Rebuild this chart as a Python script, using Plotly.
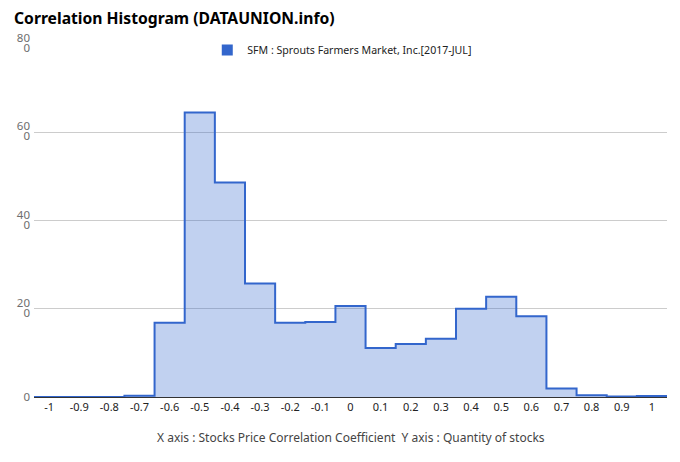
import plotly.graph_objects as go

categories = [-1.0, -0.9, -0.8, -0.7, -0.6, -0.5, -0.4, -0.3, -0.2, -0.1, 0.0,
              0.1, 0.2, 0.3, 0.4, 0.5, 0.6, 0.7, 0.8, 0.9, 1.0]
tick_labels = ["-1", "-0.9", "-0.8", "-0.7", "-0.6", "-0.5", "-0.4", "-0.3", "-0.2", "-0.1", "0",
               "0.1", "0.2", "0.3", "0.4", "0.5", "0.6", "0.7", "0.8", "0.9", "1"]
sfm_counts = [0.0, 0.0, 0.0, 0.3, 16.8, 64.5, 48.6, 25.7, 16.8, 17.0, 20.6,
              11.1, 12.0, 13.2, 20.0, 22.7, 18.3, 1.9, 0.4, 0.1, 0.2]
y_tick_vals = [0, 20, 40, 60, 80]
# the reference draws each non-zero y label as two lines: "80" above, "0" below
y_tick_upper = ["", "20", "40", "60", "80"]
y_tick_lower = ["", "0", "0", "0", "0"]
y_tick_base = ["0", "", "", "", ""]

series_name = "SFM : Sprouts Farmers Market, Inc.[2017-JUL]"
half = 0.05
# step edges: each category occupies a band centred on its value
xs = [c - half for c in categories] + [categories[-1] + half]
ys = sfm_counts + [sfm_counts[-1]]

FONT = "Noto Sans"
BLUE = "#3366CC"
YLAB = dict(size=11.5, color="#6e6e6e", family=FONT)

# the page body has an 8px margin, so the figure is drawn 8px in from the corner
W, H = 672, 454

fig = go.Figure()
fig.add_trace(go.Scatter(
    x=xs, y=ys, mode="lines", line=dict(shape="hv", color=BLUE, width=2),
    fill="tozeroy", fillcolor="rgba(51,102,204,0.3)", showlegend=False,
    hoverinfo="skip"))
fig.add_trace(go.Scatter(
    x=[None], y=[None], mode="markers", name=series_name,
    marker=dict(symbol="square", size=11, color=BLUE), showlegend=True))

common_y = dict(range=[0, 80], tickvals=y_tick_vals, automargin=False, ticks="",
                fixedrange=True, zeroline=False, tickfont=YLAB, ticklabelstandoff=3)

fig.update_layout(
    width=W, height=H,
    margin=dict(l=26, r=13, t=36, b=65, autoexpand=False),
    paper_bgcolor="white", plot_bgcolor="white",
    font=dict(family=FONT, color="#222222"),
    title=dict(text="<b>Correlation Histogram (DATAUNION.info)</b>",
               xref="container", x=6/W, xanchor="left",
               yref="container", y=1-10.5/H, yanchor="middle",
               pad=dict(l=0, r=0, t=0, b=0),
               font=dict(size=15.7, color="#000000", family=FONT)),
    legend=dict(orientation="h", x=0.487, xanchor="center", y=0.983, yanchor="middle",
                font=dict(size=10.6, color="#222222"), bgcolor="rgba(0,0,0,0)",
                itemwidth=30),
    xaxis=dict(range=[categories[0] - half, categories[-1] + half],
               tickvals=categories, ticktext=tick_labels,
               tickfont=dict(size=11, color="#222222"),
               showgrid=False, zeroline=False, showline=True, automargin=False,
               linecolor="#333333", linewidth=1, ticks=""),
    yaxis=dict(**common_y, ticktext=y_tick_upper, ticklabelshift=-6,
               showgrid=True, gridcolor="#cccccc", gridwidth=1),
    yaxis2=dict(**common_y, ticktext=y_tick_lower, ticklabelshift=4,
                overlaying="y", anchor="x", side="left", showgrid=False),
    yaxis3=dict(**common_y, ticktext=y_tick_base,
                overlaying="y", anchor="x", side="left", showgrid=False),
    annotations=[dict(text="X axis : Stocks Price Correlation Coefficient  Y axis : Quantity of stocks",
                      xref="paper", yref="paper", x=0.5, xanchor="center",
                      y=-(437-397)/353, yanchor="middle", showarrow=False,
                      font=dict(size=12, color="#444444"))],
)
# invisible traces so the overlay axes are drawn
fig.add_trace(go.Scatter(x=[None], y=[None], yaxis="y2", showlegend=False, hoverinfo="skip"))
fig.add_trace(go.Scatter(x=[None], y=[None], yaxis="y3", showlegend=False, hoverinfo="skip"))

fig.write_html("out.html")
